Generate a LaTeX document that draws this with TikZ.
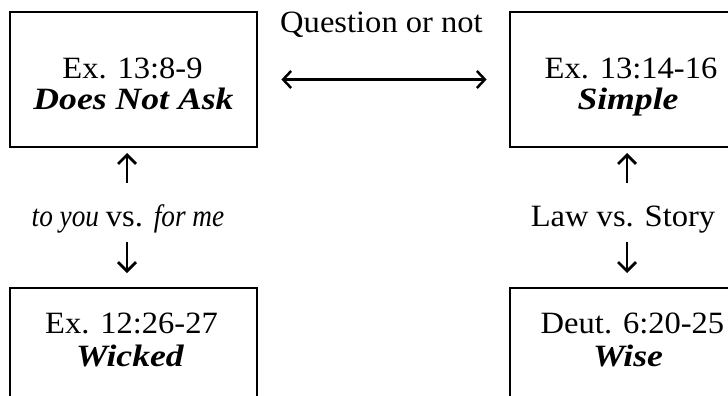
\documentclass[tikz,border=0pt]{standalone}
\usepackage{fontspec}
\setmainfont[FakeStretch=1.05,
  ItalicFeatures={FakeStretch=0.88},
  BoldItalicFeatures={FakeStretch=1.15}]{Liberation Serif}
\usetikzlibrary{arrows.meta}

\begin{document}
\begin{tikzpicture}[x=1pt,y=1pt,
  passage/.style={draw, line width=2.8pt, minimum width=247pt, minimum height=135pt, inner sep=0pt},
  verse/.style={anchor=base, inner sep=0pt, font=\fontsize{31}{33}\selectfont},
  son/.style={verse, font=\fontsize{31}{33}\selectfont\bfseries\itshape},
  link/.style={line width=2.5pt, {Straight Barb[length=8pt,width=17pt]}-{Straight Barb[length=8pt,width=17pt]}},
  pointer/.style={line width=2.7pt, -{Straight Barb[length=9pt,width=18pt]}}
]
\useasboundingbox (0,0) rectangle (728,-396);
\clip (0,0) rectangle (728,-396);

% the four passages
\node[passage] (tl) at (133.5,-79.5) {};
\node[passage] (tr) at (633.5,-79.5) {};
\node[passage] (bl) at (133.5,-355.5) {};
\node[passage] (br) at (633.5,-355.5) {};

\node[verse] (tlref)  at (132.5,-78) {Ex. 13:8-9};
\node[son]   (tlname) at (133.5,-110) {Does Not Ask};
\node[verse] (trref)  at (631,-78) {Ex. 13:14-16};
\node[son]   (trname) at (628,-109) {Simple};
\node[verse] (blref)  at (131.5,-333) {Ex. 12:26-27};
\node[son]   (blname) at (130,-366) {Wicked};
\node[verse] (brref)  at (632.5,-333) {Deut. 6:20-25};
\node[son]   (brname) at (628,-366) {Wise};

% the contrasts between them
\node[verse] (qlabel) at (381.5,-33) {Question or not};
\draw[link] ([xshift=23pt]tl.east) -- ([xshift=-22pt]tr.west);

\node[verse] (llabel) at (128,-226) {\itshape to you \upshape vs. \itshape for me};
\coordinate (lu0) at (127,-183);
\coordinate (lu1) at (127,-153);
\coordinate (ld0) at (127,-242);
\coordinate (ld1) at (127,-273);
\draw[pointer] (lu0) -- (lu1);
\draw[pointer] (ld0) -- (ld1);

\node[verse] (rlabel) at (623,-226) {Law vs. Story};
\coordinate (ru0) at (627,-183);
\coordinate (ru1) at (627,-153);
\coordinate (rd0) at (627,-242);
\coordinate (rd1) at (627,-273);
\draw[pointer] (ru0) -- (ru1);
\draw[pointer] (rd0) -- (rd1);
\end{tikzpicture}
\end{document}
